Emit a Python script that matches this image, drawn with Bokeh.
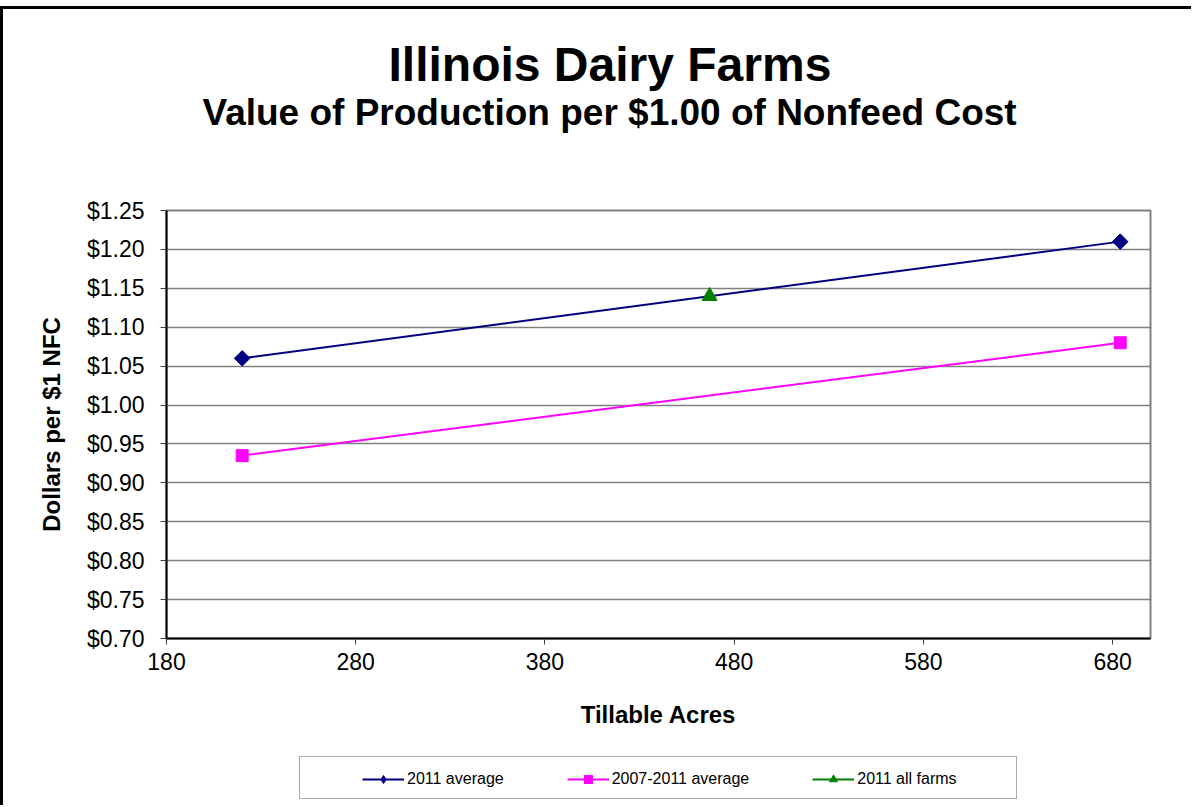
import math
from bokeh.plotting import figure
from bokeh.layouts import column
from bokeh.models import (Range1d, FixedTicker, NumeralTickFormatter, Legend, LegendItem,
                          Title, InlineStyleSheet)
from bokeh.embed import file_html
from bokeh.resources import INLINE

# ---- data ----
x_points = [220, 684]
avg_2011 = [1.06, 1.21]
avg_2007_2011 = [0.935, 1.08]
x_all_farms = [467]
all_farms_2011 = [1.14]
x_ticks = [180, 280, 380, 480, 580, 680]
y_ticks = [0.70, 0.75, 0.80, 0.85, 0.90, 0.95, 1.00, 1.05, 1.10, 1.15, 1.20, 1.25]
series_names = ["2011 average", "2007-2011 average", "2011 all farms"]
colors = ["#000080", "#FF00FF", "#008000"]

FONT = "Liberation Sans"
W = 1188

p = figure(width=W, height=739, output_backend="svg", toolbar_location=None,
           x_range=Range1d(180, 700), y_range=Range1d(0.70, 1.25),
           title="Illinois Dairy Farms",
           min_border_left=163, min_border_right=41, min_border_top=201, min_border_bottom=110)

# titles
p.title.text_font = FONT
p.title.text_font_size = "48px"
p.title.text_font_style = "bold"
p.title.text_color = "black"
p.title.align = "left"
p.title.offset = 222
p.title.standoff = -156
sub_title = Title(text="Value of Production per $1.00 of Nonfeed Cost", text_font=FONT,
                  text_font_size="37px", text_font_style="bold", text_color="black",
                  align="left", offset=36, standoff=155)
p.add_layout(sub_title, "above")

# frame
p.outline_line_color = "#808080"
p.outline_line_width = 2
p.xgrid.grid_line_color = None
p.ygrid.grid_line_color = "#808080"
p.ygrid.grid_line_width = 1.5
p.ygrid.ticker = FixedTicker(ticks=y_ticks)

# axes
p.xaxis.ticker = FixedTicker(ticks=x_ticks)
p.yaxis.ticker = FixedTicker(ticks=y_ticks)
p.yaxis.formatter = NumeralTickFormatter(format="$0.00")
for ax in (p.xaxis[0], p.yaxis[0]):
    ax.axis_line_color = "black"
    ax.axis_line_width = 2
    ax.major_tick_line_color = "#404040"
    ax.major_tick_in = 0
    ax.major_tick_out = 6
    ax.minor_tick_line_color = None
    ax.major_label_text_font = FONT
    ax.major_label_text_font_size = "23px"
    ax.major_label_text_color = "black"
    ax.axis_label_text_font = FONT
    ax.axis_label_text_font_size = "24px"
    ax.axis_label_text_font_style = "bold"
    ax.axis_label_text_color = "black"
p.xaxis.axis_label = "Tillable Acres"
p.yaxis.axis_label = "Dollars per $1 NFC"
p.xaxis.major_label_standoff = 8
p.yaxis.major_label_standoff = 16
p.xaxis.axis_label_standoff = 28
p.yaxis.axis_label_standoff = 19

# series
DIAMOND = dict(marker="square", angle=math.pi / 4)
p.line(x_points, avg_2011, line_color=colors[0], line_width=2)
p.scatter(x_points, avg_2011, size=11, fill_color=colors[0], line_color=colors[0], **DIAMOND)
p.line(x_points, avg_2007_2011, line_color=colors[1], line_width=2)
p.scatter(x_points, avg_2007_2011, marker="square", size=12, fill_color=colors[1], line_color=colors[1])
p.scatter(x_all_farms, all_farms_2011, marker="triangle", size=15, fill_color=colors[2], line_color=colors[2])

# ---- legend strip (its frame is aligned with the main frame by the column layout) ----
p2 = figure(width=W, height=57, output_backend="svg", toolbar_location=None,
            x_range=Range1d(0, 1), y_range=Range1d(0, 1),
            x_axis_location=None, y_axis_location=None, min_border=0)
p2.outline_line_color = None
p2.grid.visible = False

dummy = p2.line(x_points, avg_2011, line_alpha=0)
box = Legend(items=[LegendItem(label=" ", renderers=[dummy])], location=(133, 6),
             orientation="horizontal", padding=10, glyph_width=1, glyph_height=21,
             label_width=695, label_height=21, label_standoff=0, margin=0,
             border_line_color="#5a5a5a", border_line_width=1.5,
             background_fill_color="white", label_text_font_size="16px")
p2.add_layout(box, "center")

series_y = [avg_2011, avg_2007_2011, all_farms_2011]
series_x = [x_points, x_points, x_all_farms]
marker_kw = [dict(marker="diamond", size=11), dict(marker="square", size=10), dict(marker="triangle", size=10)]
items = []
for name, col, xs, ys, mk in zip(series_names, colors, series_x, series_y, marker_kw):
    # drawn outside p2's ranges: only their legend glyphs are visible
    lr = p2.line(xs, ys, line_color=col, line_width=2)
    sr = p2.scatter(xs, ys, fill_color=col, line_color=col, **mk)
    items.append(LegendItem(label=name, renderers=[lr, sr]))
legend = Legend(items=items, location=(188, 8), orientation="horizontal", padding=8, margin=0,
                glyph_width=42, glyph_height=20, label_height=20, label_standoff=3, spacing=63,
                label_text_font=FONT, label_text_font_size="16px", label_text_color="black",
                border_line_alpha=0, background_fill_alpha=0)
p2.add_layout(legend, "center")

layout = column(p, p2, spacing=0)
layout.stylesheets = [InlineStyleSheet(css=":host { border-left: 3px solid black; border-top: 3px solid black; margin-top: 6px; }")]

open("out.html", "w").write(file_html(layout, INLINE))
